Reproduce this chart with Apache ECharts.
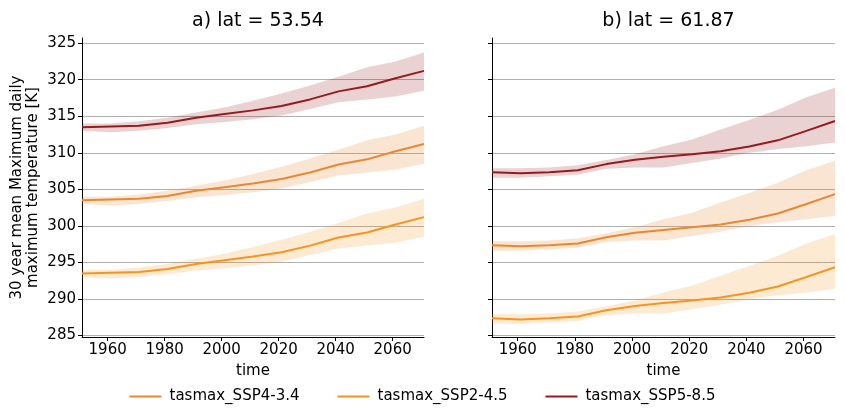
<!DOCTYPE html>
<html lang="en">
<head>
    <meta charset="UTF-8">
    <title>tasmax</title>
    <style>
        *{
            margin: 0;
            padding: 0;
        }
        body{
            background: #fff;
        }
        #chart{
            width: 845px;
            height: 418px;
        }
    </style>
</head>
<body>
    <div id="chart"></div>
    <script src="https://cdn.jsdelivr.net/npm/echarts@6/dist/echarts.min.js"></script>
    <script type="text/javascript">
        var years = [1951, 1961, 1971, 1981, 1991, 2001, 2011, 2021, 2031, 2041, 2051, 2061, 2071];
        var xTicks = [1960, 1980, 2000, 2020, 2040, 2060];
        var yTicks = [285, 290, 295, 300, 305, 310, 315, 320, 325];
        var names = ['tasmax_SSP4-3.4', 'tasmax_SSP2-4.5', 'tasmax_SSP5-8.5'];
        var colors = ['#e88831', '#f79420', '#951b1e'];
        var bandColors = ['rgba(232,136,49,0.22)', 'rgba(247,148,32,0.2)', 'rgba(149,27,30,0.2)'];
        var titles = ['a) lat = 53.54', 'b) lat = 61.87'];

        // panel a) lat = 53.54
        var a_ssp434 = [303.5, 303.6, 303.7, 304.1, 304.8, 305.3, 305.8, 306.4, 307.3, 308.4, 309.1, 310.2, 311.2];
        var a_ssp434_hi = [304.0, 304.0, 304.3, 304.8, 305.5, 306.2, 307.1, 308.1, 309.2, 310.4, 311.7, 312.5, 313.7];
        var a_ssp434_lo = [303.0, 302.8, 303.0, 303.4, 303.9, 304.2, 304.6, 305.1, 306.0, 306.9, 307.3, 307.7, 308.5];
        var a_ssp245 = [293.5, 293.6, 293.7, 294.1, 294.8, 295.3, 295.8, 296.4, 297.3, 298.4, 299.1, 300.2, 301.2];
        var a_ssp245_hi = [294.0, 294.0, 294.3, 294.8, 295.5, 296.2, 297.1, 298.1, 299.2, 300.4, 301.7, 302.5, 303.7];
        var a_ssp245_lo = [293.0, 292.8, 293.0, 293.4, 293.9, 294.2, 294.6, 295.1, 296.0, 296.9, 297.3, 297.7, 298.5];
        var a_ssp585 = [313.5, 313.6, 313.7, 314.1, 314.8, 315.3, 315.8, 316.4, 317.3, 318.4, 319.1, 320.2, 321.2];
        var a_ssp585_hi = [314.0, 314.0, 314.3, 314.8, 315.5, 316.2, 317.1, 318.1, 319.2, 320.4, 321.7, 322.5, 323.7];
        var a_ssp585_lo = [313.0, 312.8, 313.0, 313.4, 313.9, 314.2, 314.6, 315.1, 316.0, 316.9, 317.3, 317.7, 318.5];

        // panel b) lat = 61.87
        var b_ssp434 = [297.35, 297.2, 297.35, 297.6, 298.45, 299.05, 299.45, 299.8, 300.2, 300.85, 301.7, 303.0, 304.35];
        var b_ssp434_hi = [297.9, 297.9, 298.0, 298.3, 299.0, 299.8, 300.9, 301.8, 303.2, 304.5, 305.9, 307.6, 308.9];
        var b_ssp434_lo = [296.6, 296.6, 296.8, 297.0, 297.8, 298.0, 298.0, 298.6, 299.2, 300.0, 300.5, 300.9, 301.4];
        var b_ssp245 = [287.35, 287.2, 287.35, 287.6, 288.45, 289.05, 289.45, 289.8, 290.2, 290.85, 291.7, 293.0, 294.35];
        var b_ssp245_hi = [287.9, 287.9, 288.0, 288.3, 289.0, 289.8, 290.9, 291.8, 293.2, 294.5, 295.9, 297.6, 298.9];
        var b_ssp245_lo = [286.6, 286.6, 286.8, 287.0, 287.8, 288.0, 288.0, 288.6, 289.2, 290.0, 290.5, 290.9, 291.4];
        var b_ssp585 = [307.35, 307.2, 307.35, 307.6, 308.45, 309.05, 309.45, 309.8, 310.2, 310.85, 311.7, 313.0, 314.35];
        var b_ssp585_hi = [307.9, 307.9, 308.0, 308.3, 309.0, 309.8, 310.9, 311.8, 313.2, 314.5, 315.9, 317.6, 318.9];
        var b_ssp585_lo = [306.6, 306.6, 306.8, 307.0, 307.8, 308.0, 308.0, 308.6, 309.2, 310.0, 310.5, 310.9, 311.4];

        var panels = [
            { mean: [a_ssp434, a_ssp245, a_ssp585], hi: [a_ssp434_hi, a_ssp245_hi, a_ssp585_hi], lo: [a_ssp434_lo, a_ssp245_lo, a_ssp585_lo] },
            { mean: [b_ssp434, b_ssp245, b_ssp585], hi: [b_ssp434_hi, b_ssp245_hi, b_ssp585_hi], lo: [b_ssp434_lo, b_ssp245_lo, b_ssp585_lo] }
        ];

        var font = 'DejaVu Sans';
        var myChart = echarts.init(document.getElementById('chart'));

        function band(gi, hi, lo, color){
            return {
                type: 'custom',
                xAxisIndex: gi,
                yAxisIndex: gi,
                silent: true,
                clip: true,
                z: 1,
                data: years.map(function(y, i){ return [y, lo[i], hi[i]]; }),
                encode: { x: 0, y: [1, 2] },
                renderItem: function(params, api){
                    if (params.dataIndex !== 0) return;
                    var pts = [];
                    for (var i = 0; i < years.length; i++) pts.push(api.coord([years[i], hi[i]]));
                    for (var j = years.length - 1; j >= 0; j--) pts.push(api.coord([years[j], lo[j]]));
                    return { type: 'polygon', shape: { points: pts }, style: { fill: color } };
                }
            };
        }

        var grids = [
            { left: 82, width: 342, top: 38, height: 299 },
            { left: 492, width: 343, top: 38, height: 299 }
        ];

        var xAxes = [], yAxes = [], series = [], titleOpts = [];
        grids.forEach(function(g, gi){
            titleOpts.push({
                text: titles[gi],
                left: g.left + g.width / 2,
                top: 7,
                textAlign: 'center',
                textStyle: { fontFamily: font, fontSize: 19, fontWeight: 'normal', color: '#000' }
            });
            xAxes.push({
                type: 'value',
                gridIndex: gi,
                min: 1951,
                max: 2071,
                name: 'time',
                nameLocation: 'middle',
                nameGap: 27,
                nameTextStyle: { fontFamily: font, fontSize: 15, color: '#000' },
                axisLine: { lineStyle: { color: '#000', width: 1 } },
                axisTick: { customValues: xTicks, length: 4, lineStyle: { color: '#000' } },
                axisLabel: {
                    customValues: xTicks, fontFamily: font, fontSize: 15, color: '#000', margin: 6,
                    formatter: function(v){ return String(v); }
                },
                splitLine: { show: false }
            });
            yAxes.push({
                type: 'value',
                gridIndex: gi,
                min: 284.8,
                max: 325.7,
                name: gi === 0 ? '30 year mean Maximum daily\nmaximum temperature [K]' : '',
                nameLocation: 'middle',
                nameGap: 41,
                nameTextStyle: { fontFamily: font, fontSize: 15, color: '#000', lineHeight: 16 },
                axisLine: { show: true, lineStyle: { color: '#000', width: 1 } },
                axisTick: { show: true, customValues: yTicks, length: 4, lineStyle: { color: '#000' } },
                axisLabel: {
                    show: gi === 0, customValues: yTicks, fontFamily: font, fontSize: 15, color: '#000', margin: 6,
                    formatter: function(v){ return String(v); }
                },
                splitLine: { show: true, lineStyle: { color: '#b0b0b0', width: 1 } }
            });
            var p = panels[gi];
            for (var k = 0; k < 3; k++){
                series.push(band(gi, p.hi[k], p.lo[k], bandColors[k]));
            }
            for (var m = 0; m < 3; m++){
                series.push({
                    name: names[m],
                    type: 'line',
                    xAxisIndex: gi,
                    yAxisIndex: gi,
                    data: years.map(function(y, i){ return [y, p.mean[m][i]]; }),
                    showSymbol: false,
                    symbol: 'none',
                    z: 3,
                    lineStyle: { color: colors[m], width: 2 },
                    itemStyle: { color: colors[m] }
                });
            }
        });

        var option = {
            animation: false,
            backgroundColor: '#fff',
            title: titleOpts,
            legend: {
                data: names,
                bottom: 9,
                left: 'center',
                itemGap: 38,
                itemWidth: 32,
                itemHeight: 2,
                icon: 'rect',
                textStyle: { fontFamily: font, fontSize: 15, color: '#000', padding: [0, 0, 0, 3] },
            },
            grid: grids,
            xAxis: xAxes,
            yAxis: yAxes,
            series: series
        };
        myChart.setOption(option);
    </script>
</body>
</html>
